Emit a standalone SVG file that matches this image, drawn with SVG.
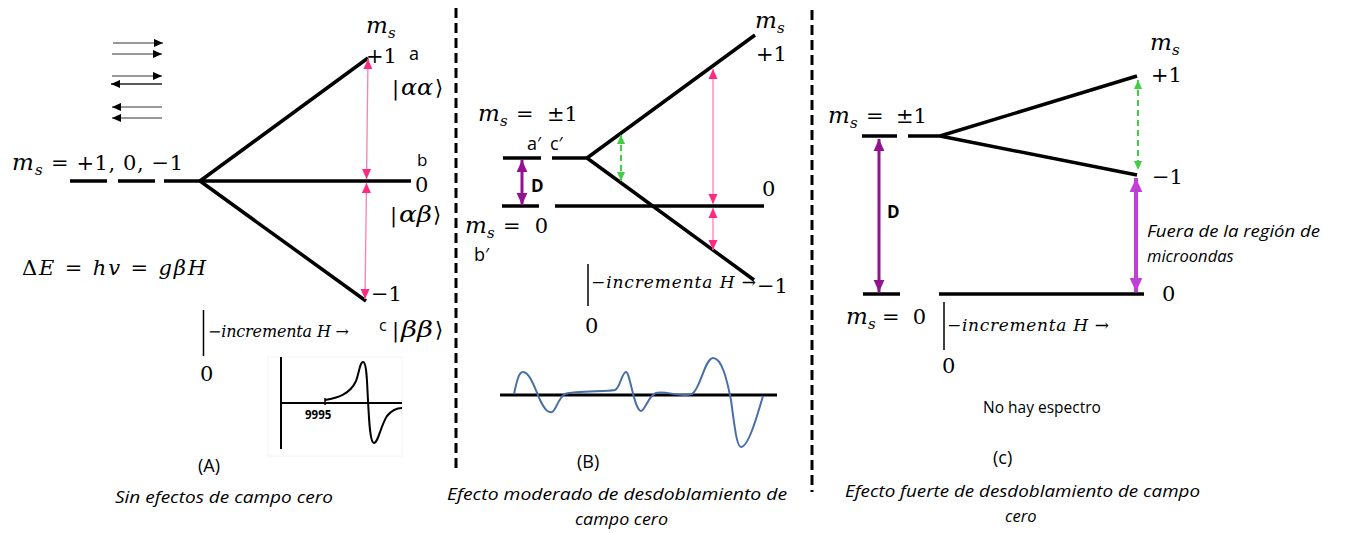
<svg xmlns="http://www.w3.org/2000/svg" width="1349" height="533" viewBox="0 0 1349 533">
<style>
.lv{stroke:#000;stroke-width:3.5;fill:none;stroke-linecap:butt}
.ax{stroke:#000;stroke-width:1.5;fill:none}
.div{stroke:#000;stroke-width:3;stroke-dasharray:10 5;fill:none}
.m{font-family:"DejaVu Serif","Liberation Serif",serif;font-size:21px;fill:#000}
.mi{font-family:"DejaVu Serif","Liberation Serif",serif;font-style:italic;font-size:23px;fill:#000}
.sub{font-family:"DejaVu Serif","Liberation Serif",serif;font-style:italic;font-size:15px;fill:#000}
.axl{font-family:"DejaVu Serif","Liberation Serif",serif;font-style:italic;fill:#000}
.s{font-family:"Open Sans","Liberation Sans",sans-serif;fill:#000}
.cap{font-family:"Open Sans","Liberation Sans",sans-serif;font-style:italic;font-size:16.5px;fill:#000}
.pk{stroke:#FF7EB0;stroke-width:1.3;fill:none}
.gr{stroke:#44CC44;stroke-width:2;stroke-dasharray:6 4;fill:none}
</style>
<defs>
<marker id="ahPink" markerUnits="userSpaceOnUse" markerWidth="10" markerHeight="10" viewBox="0 0 10 10" refX="10" refY="5" orient="auto-start-reverse"><path d="M0,0.5 L10,5 L0,9.5 z" fill="#FF2A80"/></marker>
<marker id="ahGreen" markerUnits="userSpaceOnUse" markerWidth="9" markerHeight="9" viewBox="0 0 10 10" refX="10" refY="5" orient="auto-start-reverse"><path d="M0,0.5 L10,5 L0,9.5 z" fill="#44CC44"/></marker>
<marker id="ahPurple" markerUnits="userSpaceOnUse" markerWidth="12" markerHeight="12" viewBox="0 0 10 10" refX="10" refY="5" orient="auto-start-reverse"><path d="M0,0.5 L10,5 L0,9.5 z" fill="#93128F"/></marker>
<marker id="ahMag" markerUnits="userSpaceOnUse" markerWidth="14" markerHeight="14" viewBox="0 0 10 10" refX="10" refY="5" orient="auto-start-reverse"><path d="M0,0.5 L10,5 L0,9.5 z" fill="#C23ED8"/></marker>
<marker id="ahBlack" markerUnits="userSpaceOnUse" markerWidth="10" markerHeight="9" viewBox="0 0 10 10" refX="10" refY="5" orient="auto"><path d="M0,0.5 L10,5 L0,9.5 z" fill="#000"/></marker>
</defs>
<rect width="1349" height="533" fill="#fff"/>

<g id="dividers">
<line class="div" x1="456" y1="8" x2="456" y2="468"/>
<line class="div" x1="812" y1="10" x2="812" y2="492"/>
</g>

<g id="spin-arrows">
<line x1="113" y1="43" x2="163" y2="43" stroke="#777" stroke-width="1.3" marker-end="url(#ahBlack)"/>
<line x1="112" y1="54" x2="162" y2="54" stroke="#777" stroke-width="1.3" marker-end="url(#ahBlack)"/>
<line x1="112" y1="76" x2="162" y2="76" stroke="#777" stroke-width="1.3" marker-end="url(#ahBlack)"/>
<line x1="162" y1="84" x2="111" y2="84" stroke="#222" stroke-width="1.3" marker-end="url(#ahBlack)"/>
<line x1="162" y1="107" x2="112" y2="107" stroke="#777" stroke-width="1.3" marker-end="url(#ahBlack)"/>
<line x1="162" y1="118" x2="112" y2="118" stroke="#777" stroke-width="1.3" marker-end="url(#ahBlack)"/>
</g>

<g id="panelA-levels">
<line class="lv" x1="70" y1="181" x2="107" y2="181"/>
<line class="lv" x1="118" y1="181" x2="155" y2="181"/>
<line class="lv" x1="164" y1="181" x2="411" y2="181"/>
<line class="lv" x1="200" y1="181" x2="368" y2="58"/>
<line class="lv" x1="200" y1="181" x2="366" y2="301"/>
</g>

<g id="panelA-transitions">
<line class="pk" x1="368" y1="59" x2="366.5" y2="179" marker-start="url(#ahPink)" marker-end="url(#ahPink)"/>
<line class="pk" x1="366.5" y1="183" x2="365" y2="299" marker-start="url(#ahPink)" marker-end="url(#ahPink)"/>
</g>

<g id="panelA-labels">
<text class="mi" x="366" y="33">m</text><text class="sub" x="388" y="38">s</text>
<text class="m" x="366" y="63">+1</text>
<text class="s" x="409" y="60" font-size="18">a</text>
<text class="m" x="392" y="95" font-size="24">|</text>
<text class="mi" x="401" y="95" font-size="24" textLength="32" lengthAdjust="spacingAndGlyphs">αα</text>
<text class="m" x="435" y="95" font-size="24">⟩</text>
<text class="mi" x="12" y="170">m</text><text class="sub" x="35" y="175">s</text>
<text class="m" x="51" y="170" textLength="132" lengthAdjust="spacing">= +1, 0, −1</text>
<text class="s" x="417" y="166" font-size="17">b</text>
<text class="m" x="415" y="192">0</text>
<text class="m" x="390" y="222" font-size="24">|</text>
<text class="mi" x="399" y="222" font-size="24" textLength="33" lengthAdjust="spacingAndGlyphs">αβ</text>
<text class="m" x="433" y="222" font-size="24">⟩</text>
<text class="m" x="371" y="301">−1</text>
<text class="m" x="22" y="275" font-size="24" textLength="184" lengthAdjust="spacing">Δ<tspan font-style="italic">E</tspan> = <tspan font-style="italic">hv</tspan> = <tspan font-style="italic">gβH</tspan></text>
</g>

<g id="panelA-axis">
<line class="ax" x1="203.5" y1="310" x2="203.5" y2="356"/>
<text class="axl" x="208" y="337" font-size="16" textLength="141" lengthAdjust="spacing">−incrementa H →</text>
<text class="s" x="379" y="331" font-size="16">c</text>
<text class="m" x="392" y="337" font-size="24">|</text>
<text class="mi" x="401" y="337" font-size="24" textLength="32" lengthAdjust="spacingAndGlyphs">ββ</text>
<text class="m" x="435" y="337" font-size="24">⟩</text>
<text class="m" x="200" y="381" font-size="16">0</text>
</g>

<g id="panelA-spectrum">
<rect x="268" y="357" width="134" height="99" fill="#fff" stroke="#f4f4f4" stroke-width="1"/>
<line x1="281" y1="357" x2="281" y2="449" stroke="#000" stroke-width="2"/>
<line x1="281" y1="403" x2="402" y2="403" stroke="#000" stroke-width="2"/>
<line x1="325" y1="398" x2="325" y2="405" stroke="#000" stroke-width="1.5"/>
<path d="M325,400 C338,398 350,394 356,381 C359,373 360,362 363,362 C367,362 367,385 368,400 C369,420 370,443 374,443 C378,443 381,425 387,416 C392,410 396,408 402,408" stroke="#000" stroke-width="2" fill="none"/>
<text class="s" x="305" y="419" font-size="11.5" font-weight="bold">9995</text>
</g>

<g id="panelA-caption">
<text class="s" x="198" y="472" font-size="18">(A)</text>
<text class="cap" x="115" y="503" textLength="218" lengthAdjust="spacingAndGlyphs">Sin efectos de campo cero</text>
</g>

<g id="panelB-levels">
<line class="lv" x1="503" y1="158" x2="541" y2="158"/>
<line class="lv" x1="552" y1="158" x2="588" y2="158"/>
<line class="lv" x1="587" y1="158" x2="755" y2="35"/>
<line class="lv" x1="587" y1="158" x2="754" y2="280"/>
<line class="lv" x1="502" y1="206" x2="539" y2="206"/>
<line class="lv" x1="555" y1="206" x2="764" y2="206"/>
</g>

<g id="panelB-transitions">
<line x1="522" y1="160" x2="522" y2="205" stroke="#93128F" stroke-width="3" marker-start="url(#ahPurple)" marker-end="url(#ahPurple)"/>
<line class="gr" x1="621" y1="135" x2="621" y2="181" marker-start="url(#ahGreen)" marker-end="url(#ahGreen)"/>
<line class="pk" x1="713" y1="69" x2="713" y2="204" marker-start="url(#ahPink)" marker-end="url(#ahPink)"/>
<line class="pk" x1="713" y1="208" x2="713" y2="250" marker-start="url(#ahPink)" marker-end="url(#ahPink)"/>
</g>

<g id="panelB-labels">
<text class="mi" x="755" y="28">m</text><text class="sub" x="777" y="33">s</text>
<text class="m" x="756" y="61">+1</text>
<text class="mi" x="478" y="121">m</text><text class="sub" x="500" y="126">s</text>
<text class="m" x="516" y="121" font-size="22">= <tspan x="547">±1</tspan></text>
<text class="s" x="527" y="150" font-size="18">a′</text>
<text class="s" x="550" y="150" font-size="18">c′</text>
<text class="s" x="531" y="192" font-size="17" font-weight="bold">D</text>
<text class="mi" x="465" y="233">m</text><text class="sub" x="487" y="238">s</text>
<text class="m" x="503" y="233" textLength="45" lengthAdjust="spacing">= 0</text>
<text class="s" x="474" y="261" font-size="18">b′</text>
<text class="m" x="762" y="196">0</text>
<text class="m" x="757" y="293">−1</text>
</g>

<g id="panelB-axis">
<line class="ax" x1="588" y1="264" x2="588" y2="306"/>
<text class="axl" x="591" y="288" font-size="17" textLength="165" lengthAdjust="spacing">−incrementa H →</text>
<text class="m" x="585" y="333" font-size="16">0</text>
</g>

<g id="panelB-spectrum">
<line x1="500" y1="395" x2="777" y2="395" stroke="#000" stroke-width="3"/>
<path d="M514,394 C517,380 519,372 523,372 C529,372 534,385 540,400 C545,410 548,413 552,412 C556,411 558,398 565,394 C575,390 605,392 615,390 C620,388 622,372 626,372 C630,372 634,410 641,411 C645,411 648,396 656,393 C665,390 680,398 692,394 C700,390 705,358 713,358 C722,358 727,380 731,400 C735,430 737,447 741,447 C748,447 756,420 763,396" stroke="#4A6FA8" stroke-width="2" fill="none"/>
</g>

<g id="panelB-caption">
<text class="s" x="577" y="468" font-size="18">(B)</text>
<text class="cap" x="447" y="500" textLength="340" lengthAdjust="spacingAndGlyphs">Efecto  moderado de desdoblamiento de</text>
<text class="cap" x="575" y="525" textLength="93" lengthAdjust="spacingAndGlyphs">campo cero</text>
</g>

<g id="panelC-levels">
<line class="lv" x1="862" y1="136" x2="897" y2="136"/>
<line class="lv" x1="908" y1="136" x2="941" y2="136"/>
<line class="lv" x1="940" y1="136" x2="1137" y2="76"/>
<line class="lv" x1="940" y1="136" x2="1137" y2="175"/>
<line class="lv" x1="863" y1="294" x2="900" y2="294"/>
<line class="lv" x1="939" y1="294" x2="1144" y2="294"/>
</g>

<g id="panelC-transitions">
<line x1="879" y1="139" x2="879" y2="292" stroke="#93128F" stroke-width="3" marker-start="url(#ahPurple)" marker-end="url(#ahPurple)"/>
<line class="gr" x1="1138" y1="80" x2="1138" y2="170" marker-start="url(#ahGreen)" marker-end="url(#ahGreen)"/>
<line x1="1136" y1="178" x2="1136" y2="292" stroke="#C23ED8" stroke-width="4" marker-start="url(#ahMag)" marker-end="url(#ahMag)"/>
</g>

<g id="panelC-labels">
<text class="mi" x="1150" y="50">m</text><text class="sub" x="1172" y="55">s</text>
<text class="m" x="1151" y="82">+1</text>
<text class="mi" x="828" y="123">m</text><text class="sub" x="850" y="128">s</text>
<text class="m" x="866" y="123" font-size="22">= <tspan x="896">±1</tspan></text>
<text class="m" x="1152" y="184">−1</text>
<text class="s" x="887" y="218" font-size="17" font-weight="bold">D</text>
<text class="m" x="1162" y="301">0</text>
<text class="cap" x="1147" y="237" textLength="173" lengthAdjust="spacingAndGlyphs">Fuera de la región de</text>
<text class="cap" x="1147" y="262">microondas</text>
<text class="mi" x="846" y="324">m</text><text class="sub" x="868" y="329">s</text>
<text class="m" x="882" y="324" textLength="44" lengthAdjust="spacing">= 0</text>
</g>

<g id="panelC-axis">
<line class="ax" x1="944" y1="302" x2="944" y2="350"/>
<text class="axl" x="947" y="331" font-size="17" textLength="162" lengthAdjust="spacing">−incrementa H →</text>
<text class="m" x="942" y="373" font-size="16">0</text>
</g>

<g id="panelC-caption">
<text class="s" x="983" y="413" font-size="15.5">No hay espectro</text>
<text class="s" x="993" y="464" font-size="18">(c)</text>
<text class="cap" x="845" y="497" textLength="355" lengthAdjust="spacingAndGlyphs">Efecto  fuerte de desdoblamiento de campo</text>
<text class="cap" x="1005" y="522">cero</text>
</g>
</svg>
